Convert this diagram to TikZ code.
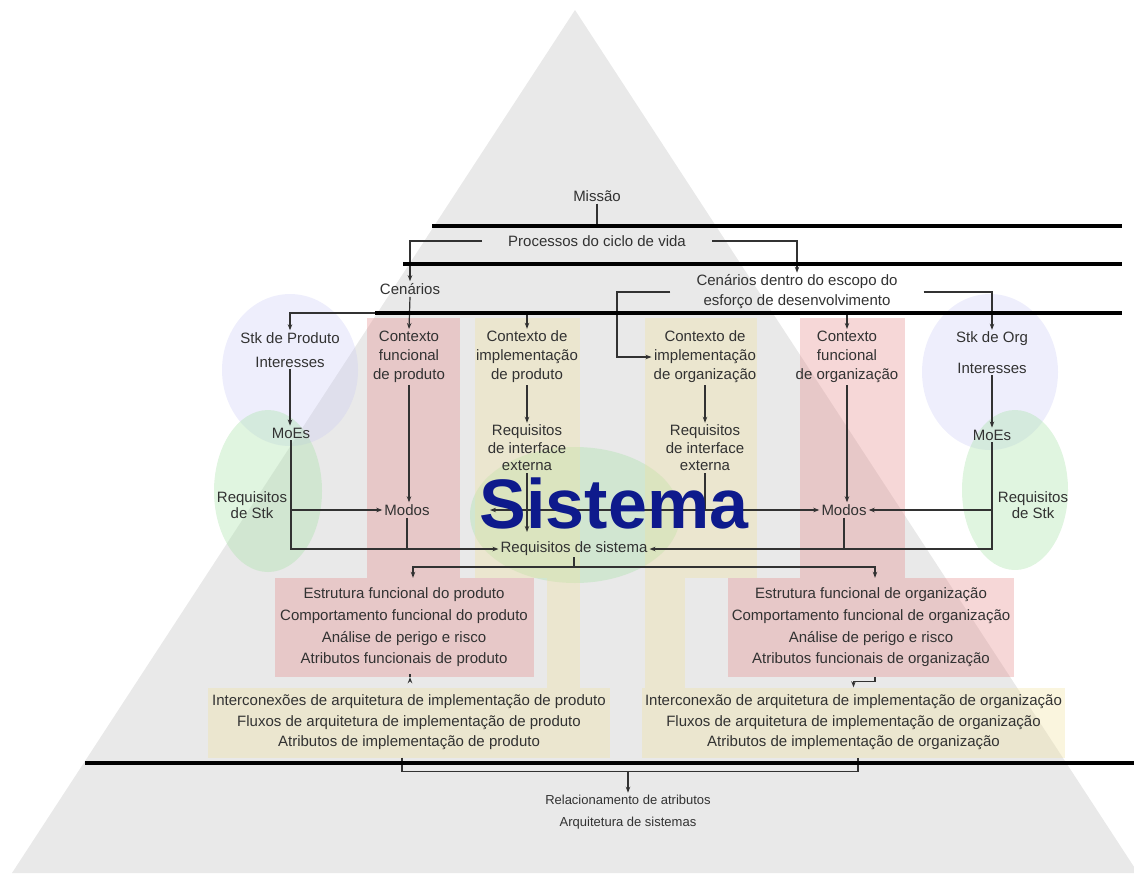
\documentclass[tikz,border=0pt]{standalone}
\usepackage{fontspec}
\setmainfont{Liberation Sans}
\usetikzlibrary{arrows.meta,calc}
\definecolor{tri}{RGB}{233,233,233}
\definecolor{bluec}{RGB}{200,200,245}
\definecolor{greenc}{RGB}{165,225,165}
\definecolor{redc}{RGB}{230,140,140}
\definecolor{tanc}{RGB}{240,225,160}
\definecolor{navy}{RGB}{14,26,140}
\definecolor{txt}{RGB}{50,50,50}
\begin{document}
\begin{tikzpicture}[x=1pt,y=-1pt]
\tikzset{
 lbl/.style={font=\fontsize{15}{19}\selectfont, text=txt, align=center, inner sep=2pt},
 gapnode/.style={lbl, inner xsep=26pt},
 boxred/.style={font=\fontsize{15}{21.7}\selectfont, text=txt, align=center, fill=redc, fill opacity=.35, text opacity=1, inner sep=0pt},
 boxtan/.style={font=\fontsize{15}{20.5}\selectfont, text=txt, align=center, fill=tanc, fill opacity=.35, text opacity=1, inner sep=0pt},
 conn/.style={draw=txt, line width=1.2pt},
 arr/.style={conn, -{Stealth[length=6pt,width=4.5pt]}},
 arrboth/.style={conn, {Stealth[length=6pt,width=4.5pt]}-{Stealth[length=6pt,width=4.5pt]}},
 bar/.style={line width=4pt, draw=black},
}
\useasboundingbox (0,0) rectangle (1134,875);
% background triangle
\fill[tri] (575,10) -- (1138,873) -- (12,873) -- cycle;
% ellipses
\fill[bluec, opacity=.3] (290,370) ellipse[x radius=68pt, y radius=76pt];
\fill[bluec, opacity=.3] (990,372) ellipse[x radius=68pt, y radius=78pt];
\fill[greenc, opacity=.35] (268,491) ellipse[x radius=54pt, y radius=81pt];
\fill[greenc, opacity=.35] (1015,490) ellipse[x radius=53pt, y radius=80pt];
\fill[greenc, opacity=.35] (575,515) ellipse[x radius=105pt, y radius=68pt];
% columns
\fill[tanc, opacity=.35] (475,318) rectangle (580,578);
\fill[tanc, opacity=.35] (547,578) rectangle (580,688);
\fill[tanc, opacity=.35] (645,318) rectangle (757,578);
\fill[tanc, opacity=.35] (645,578) rectangle (685,688);
\fill[redc, opacity=.35] (367,318) rectangle (460,578);
\fill[redc, opacity=.35] (800,318) rectangle (905,578);

% boxes
\node[boxred, minimum width=259pt, minimum height=99pt] (efp) at (404,627.5)
 {Estrutura funcional do produto\\Comportamento funcional do produto\\An\'alise de perigo e risco\\Atributos funcionais de produto};
\node[boxred, minimum width=286pt, minimum height=99pt] (efo) at (871,627.5)
 {Estrutura funcional de organiza\c{c}\~ao\\Comportamento funcional de organiza\c{c}\~ao\\An\'alise de perigo e risco\\Atributos funcionais de organiza\c{c}\~ao};
\node[boxtan, minimum width=402pt, minimum height=70pt] (ifp) at (409,722.5)
 {Interconex\~oes de arquitetura de implementa\c{c}\~ao de produto\\Fluxos de arquitetura de implementa\c{c}\~ao de produto\\Atributos de implementa\c{c}\~ao de produto};
\node[boxtan, minimum width=423pt, minimum height=70pt] (ifo) at (853.5,722.5)
 {Interconex\~ao de arquitetura de implementa\c{c}\~ao de organiza\c{c}\~ao\\Fluxos de arquitetura de implementa\c{c}\~ao de organiza\c{c}\~ao\\Atributos de implementa\c{c}\~ao de organiza\c{c}\~ao};

% top labels
\node[lbl] (mis) at (597,196) {Miss\~ao};
\node[gapnode] (proc) at (597,241) {Processos do ciclo de vida};
\node[lbl] (cen) at (410,289) {Cen\'arios};
\node[gapnode, font=\fontsize{15}{20}\selectfont] (ced) at (797,292) {Cen\'arios dentro do escopo do\\esfor\c{c}o de desenvolvimento};

% left columns
\node[lbl] (stkp) at (290,338) {Stk de Produto};
\node[lbl] (intp) at (290,362) {Interesses};
\node[lbl] (moesp) at (291,433) {MoEs};
\node[lbl, font=\fontsize{15}{16}\selectfont] (rsp) at (252,505) {Requisitos\\de Stk};
\node[lbl] (modp) at (407,510) {Modos};
\node[lbl] (cfp) at (409,357) {Contexto\\funcional\\de produto};
\node[lbl] (cip) at (527,357) {Contexto de\\implementa\c{c}\~ao\\de produto};
\node[lbl, font=\fontsize{15}{17.5}\selectfont] (rip) at (527,448) {Requisitos\\de interface\\externa};
% right columns
\node[lbl] (cio) at (705,357) {Contexto de\\implementa\c{c}\~ao\\de organiza\c{c}\~ao};
\node[lbl, font=\fontsize{15}{17.5}\selectfont] (rio) at (705,448) {Requisitos\\de interface\\externa};
\node[lbl] (cfo) at (847,357) {Contexto\\funcional\\de organiza\c{c}\~ao};
\node[lbl] (stko) at (992,339) {Stk de Org};
\node[lbl] (into) at (992,368) {Interesses};
\node[lbl] (moeso) at (992,435) {MoEs};
\node[lbl, font=\fontsize{15}{16}\selectfont] (rso) at (1033,505) {Requisitos\\de Stk};
\node[lbl] (modo) at (844,510) {Modos};
% centre
\node[lbl, inner ysep=1pt] (rsis) at (574,549) {Requisitos de sistema};
\node[lbl, font=\fontsize{13}{22}\selectfont] (rel) at (628,812) {Relacionamento de atributos\\Arquitetura de sistemas};

% coordinates
\coordinate (mj) at (597,226);
\coordinate (cj) at (409,313);
\coordinate (cbend) at (617,292);
\coordinate (sl) at (490,510);
\coordinate (ripend) at (527,532);
\coordinate (jn) at (574,567);

% top connectors
\draw[conn] (mis.south) -- (mj);
\draw[arr] (proc.west) -| (cen.north);
\draw[arr] (proc.east) -| (ced.north);
\draw[arr] (cen.south) -- (cfp.north);
\draw[arr] (cj) -| (stkp.north);
\draw[arr] (cj) -| (cip.north);
\draw[arr] (ced.west) -- (cbend) |- (cio.west);
\draw[arr] (ced.south -| cfo.north) -- (cfo.north);
\draw[arr] (ced.east) -| (stko.north);

% column connectors
\draw[arr] (intp.south) -- (intp.south |- moesp.north);
\draw[arr] (into.south) -- (moeso.north);
\draw[arr] (cip.south) -- (rip.north);
\draw[arr] (cio.south) -- (rio.north);
\draw[arr] (cfp.south) -- (cfp.south |- modp.north);
\draw[arr] (cfo.south) -- (cfo.south |- modo.north);
\draw[arr] (moesp.south) |- (rsis.west);
\draw[arr] (moesp.south |- modp.west) -- (modp.west);
\draw[conn] (modp.south) -- (modp.south |- rsis.west);
\draw[arr] (moeso.south) |- (rsis.east);
\draw[arr] (moeso.south |- modo.east) -- (modo.east);
\draw[conn] (modo.south) -- (modo.south |- rsis.east);
\draw[arrboth] (sl) -- (modo.west);
\draw[conn] (rio.south) -- (rio.south |- modo.west);
\draw[arr] (rip.south) -- (ripend);

% lower connectors
\draw[conn] (rsis.south) -- (jn);
\draw[arr] (jn) -| ($(efp.north)+(9,0)$);
\draw[arr] (jn) -| ($(efo.north)+(4,0)$);
\draw[arr] ($(efp.south)+(6,0)$) -- ($(efp.south)+(6,0)$ |- ifp.north);
\draw[arr] ($(efo.south)+(4,0)$) -- ++(0,4) -| (ifo.north);
\draw[conn] ($(ifp.south)+(-7,0)$) -- ++(0,14) coordinate (bl) -| ($(ifo.south)+(4.5,0)$);
\draw[arr] (bl -| rel.north) -- (rel.north);

% thick bars
\draw[bar] (432,226) -- (1122,226);
\draw[bar] (403,264) -- (1122,264);
\draw[bar] (375,313) -- (1122,313);
\draw[bar] (85,763) -- (1134,763);

% big title
\node[font=\fontsize{70}{70}\selectfont\bfseries, text=navy, inner sep=0pt] (sis) at (614,503) {Sistema};
\end{tikzpicture}
\end{document}
